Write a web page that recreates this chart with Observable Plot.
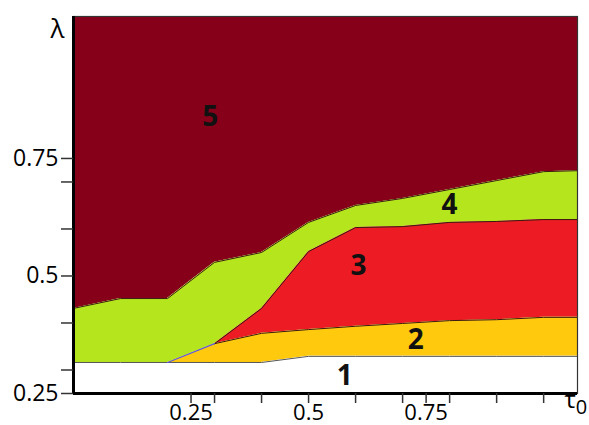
<!DOCTYPE html>
<html>
<head>
<meta charset="utf-8">
<script src="https://cdn.jsdelivr.net/npm/d3@7"></script>
<script src="https://cdn.jsdelivr.net/npm/@observablehq/plot@0.6"></script>
<style>
  html, body { margin: 0; padding: 0; background: #fff; }
  svg { display: block; }
</style>
</head>
<body>
<div id="chart"></div>
<script>
// τ0 grid
const tau = [0, 0.1, 0.2, 0.3, 0.4, 0.5, 0.6, 0.7, 0.8, 0.9, 1.0, 1.072];
// boundary 5/4 (top of region 4)
const top4 = [0.431, 0.452, 0.452, 0.529, 0.550, 0.614, 0.650, 0.665, 0.684, 0.703, 0.722, 0.724];
// boundary 4/3 (top of region 3)
const top3 = [0.316, 0.316, 0.316, 0.356, 0.431, 0.552, 0.603, 0.605, 0.614, 0.616, 0.620, 0.620];
// boundary 3/2 (top of region 2)
const top2 = [0.316, 0.316, 0.316, 0.356, 0.378, 0.386, 0.393, 0.399, 0.405, 0.407, 0.412, 0.412];
// boundary 2/1 (top of region 1)
const top1 = [0.316, 0.316, 0.316, 0.316, 0.316, 0.329, 0.329, 0.329, 0.329, 0.329, 0.329, 0.329];

const xDomain = [0, 1.072];
const yDomain = [0.25, 1.052];

const xTicks = [0.25, 0.3, 0.4, 0.5, 0.6, 0.7, 0.75, 0.8, 0.9, 1.0];
const yTicks = [0.25, 0.3, 0.4, 0.5, 0.6, 0.7, 0.75];
const tickLabels = [0.25, 0.5, 0.75];

const regionNames = ["1", "2", "3", "4", "5"];
const regionX = [0.577, 0.728, 0.606, 0.800, 0.291];
const regionY = [0.288, 0.363, 0.522, 0.650, 0.839];

const colors = {
  r5: "#870019",
  r4: "#b5e61d",
  r3: "#ed1c24",
  r2: "#ffc90e",
  r1: "#ffffff"
};

const rows = tau.map((t, i) => ({
  t, a: top4[i], b: top3[i], c: top2[i], d: top1[i], top: yDomain[1], bot: yDomain[0]
}));
const labels = regionNames.map((n, i) => ({n, x: regionX[i], y: regionY[i]}));
const fmt = d => tickLabels.includes(d) ? String(d) : "";

const chart = Plot.plot({
  width: 589,
  height: 425,
  marginLeft: 73,
  marginRight: 12,
  marginTop: 16,
  marginBottom: 32,
  style: {fontFamily: "'Open Sans', sans-serif", background: "#fff"},
  x: {domain: xDomain},
  y: {domain: yDomain},
  axis: null,
  marks: [
    Plot.areaY(rows, {x: "t", y1: "a", y2: "top", fill: colors.r5}),
    Plot.areaY(rows, {x: "t", y1: "b", y2: "a", fill: colors.r4}),
    Plot.areaY(rows, {x: "t", y1: "c", y2: "b", fill: colors.r3}),
    Plot.areaY(rows, {x: "t", y1: "d", y2: "c", fill: colors.r2}),
    Plot.areaY(rows, {x: "t", y1: "bot", y2: "d", fill: colors.r1}),
    Plot.lineY(rows, {x: "t", y: "a", stroke: "#3a1a10", strokeWidth: 1}),
    Plot.lineY(rows.filter(r => r.t >= 0.3), {x: "t", y: "b", stroke: "#3a1a10", strokeWidth: 1}),
    Plot.lineY(rows.filter(r => r.t >= 0.3), {x: "t", y: "c", stroke: "#3a1a10", strokeWidth: 1}),
    Plot.lineY(rows, {x: "t", y: "d", stroke: "#555", strokeWidth: 1}),
    Plot.lineY(rows.filter(r => r.t >= 0.2 && r.t <= 0.3), {x: "t", y: "b", stroke: "#5a5ae0", strokeWidth: 1.2}),
    Plot.text(labels, {x: "x", y: "y", text: "n", fontSize: 28, fontWeight: "bold", fill: "#111"}),
    Plot.frame({stroke: "#333", strokeWidth: 1.2}),
    Plot.ruleX([0], {stroke: "#000", strokeWidth: 3}),
    Plot.ruleY([0.25], {stroke: "#000", strokeWidth: 3}),
    Plot.axisX({ticks: xTicks, tickFormat: fmt, tickSize: 10, tickPadding: 1, fontSize: 22, stroke: "#333", strokeWidth: 1.5, fill: "#000", anchor: "bottom"}),
    Plot.axisY({ticks: yTicks, tickFormat: fmt, tickSize: 12, tickPadding: 3, fontSize: 23, stroke: "#333", strokeWidth: 1.5, fill: "#000", anchor: "left"}),
    Plot.text(["λ"], {frameAnchor: "top-left", dx: -23, dy: 3, fontSize: 26, fill: "#000"}),
    Plot.text(["τ"], {frameAnchor: "bottom-right", textAnchor: "start", dx: -13, dy: 14, fontSize: 24, fill: "#000", className: "tau-label"})
  ]
});
document.getElementById("chart").appendChild(chart);
// add subscript 0 to τ
const tauText = d3.select(chart).select(".tau-label text");
if (!tauText.empty()) {
  tauText.append("tspan").attr("dy", "0.3em").attr("font-size", 20).text("0");
}
</script>
</body>
</html>
